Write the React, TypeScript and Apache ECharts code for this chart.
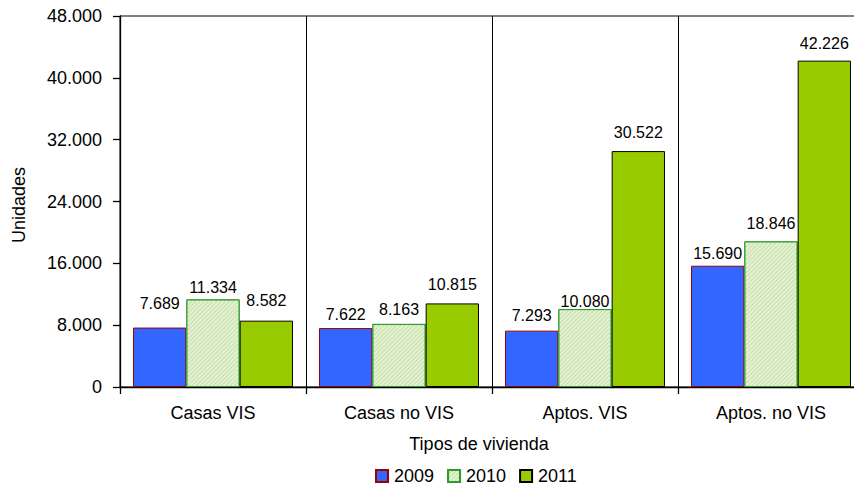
import React, { useEffect, useRef } from "react";
import * as echarts from "echarts";

const categories = ["Casas VIS", "Casas no VIS", "Aptos. VIS", "Aptos. no VIS"];
const seriesNames = ["2009", "2010", "2011"];
const values2009 = [7689, 7622, 7293, 15690];
const values2010 = [11334, 8163, 10080, 18846];
const values2011 = [8582, 10815, 30522, 42226];
const yTicks = { min: 0, max: 48000, interval: 8000 };

// label lift above each bar (layout only)
const lift2009 = [16, 6, 7, 4];
const lift2010 = [4, 6, 0, 10];
const lift2011 = [12, 11, 11, 9];

const FONT = "'Liberation Sans', Arial, Helvetica, sans-serif";

const fmt = (n: number) =>
  Math.round(n).toString().replace(/\B(?=(\d{3})+(?!\d))/g, ".");

export default function App() {
  const ref = useRef<HTMLDivElement>(null);
  useEffect(() => {
    if (!ref.current) return;
    const chart = echarts.init(ref.current, undefined, { renderer: "svg" });
    const mk = (vals: number[], lifts: number[]) =>
      vals.map((v, i) => ({ value: v, label: { distance: lifts[i] } }));
    const label = {
      show: true,
      position: "top" as const,
      formatter: (p: any) => fmt(p.value),
      fontFamily: FONT,
      fontSize: 16,
      color: "#000",
    };
    chart.setOption({
      animation: false,
      backgroundColor: "#fff",
      grid: {
        left: 120,
        top: 16,
        height: 371,
        width: 744,
        show: true,
        borderColor: "#000",
        borderWidth: 1,
        backgroundColor: "transparent",
      },
      legend: {
        left: 375,
        top: 467,
        itemWidth: 12,
        itemHeight: 12,
        itemGap: 13,
        icon: "rect",
        padding: 0,
        textStyle: { fontFamily: FONT, fontSize: 18, color: "#000", padding: [0, 0, 0, 1] },
        data: seriesNames,
      },
      xAxis: {
        type: "category",
        data: categories,
        axisLine: { lineStyle: { color: "#000", width: 1.3 } },
        axisTick: { show: true, length: 7, lineStyle: { color: "#000", width: 1.3 } },
        axisLabel: { fontFamily: FONT, fontSize: 18, color: "#000", margin: 17 },
        splitLine: { show: true, lineStyle: { color: "#000", width: 1 } },
      },
      yAxis: {
        type: "value",
        min: yTicks.min,
        max: yTicks.max,
        interval: yTicks.interval,
        axisLine: { show: true, lineStyle: { color: "#000", width: 1.3 } },
        axisTick: { show: true, length: 7, lineStyle: { color: "#000", width: 1.3 } },
        axisLabel: {
          fontFamily: FONT,
          fontSize: 18,
          color: "#000",
          margin: 18,
          formatter: (v: number) => fmt(v),
        },
        splitLine: { show: false },
      },
      graphic: [
        {
          type: "text",
          x: 19,
          y: 205,
          rotation: Math.PI / 2,
          style: {
            text: "Unidades",
            fontFamily: FONT,
            fontSize: 18,
            fill: "#000",
            align: "center",
            verticalAlign: "middle",
          },
        },
        {
          type: "text",
          x: 479,
          y: 444,
          style: {
            text: "Tipos de vivienda",
            fontFamily: FONT,
            fontSize: 18,
            fill: "#000",
            align: "center",
            verticalAlign: "middle",
          },
        },
      ],
      series: [
        {
          name: seriesNames[0],
          type: "bar",
          barGap: "0%",
          barCategoryGap: "14%",
          data: mk(values2009, lift2009),
          itemStyle: { color: "#3366FF", borderColor: "#990000", borderWidth: 1 },
          label,
        },
        {
          name: seriesNames[1],
          type: "bar",
          data: mk(values2010, lift2010),
          itemStyle: {
            color: "#e4f1d4",
            borderColor: "#2e9a2e",
            borderWidth: 1,
            decal: {
              symbol: "rect",
              color: "#c6e0a6",
              dashArrayX: [[1, 0]],
              dashArrayY: [1, 2],
              rotation: -Math.PI / 4,
            },
          },
          label,
        },
        {
          name: seriesNames[2],
          type: "bar",
          data: mk(values2011, lift2011),
          itemStyle: { color: "#99CC00", borderColor: "#000", borderWidth: 1 },
          label,
        },
      ],
    });
    return () => chart.dispose();
  }, []);
  return (
    <div
      style={{
        position: "fixed",
        left: 0,
        top: 0,
        width: 854,
        height: 485,
        overflow: "hidden",
        background: "#fff",
      }}
    >
      <div ref={ref} style={{ width: 880, height: 485 }} />
    </div>
  );
}
